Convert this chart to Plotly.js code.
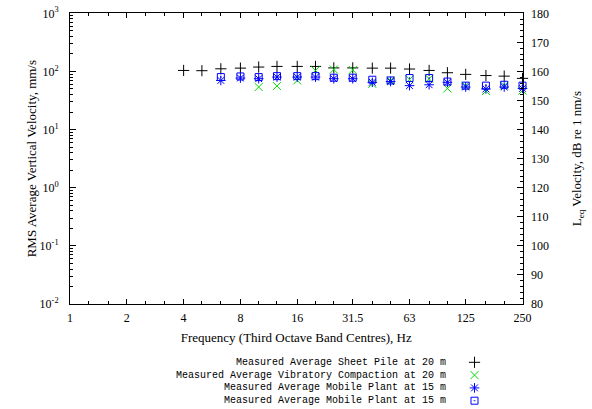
<!DOCTYPE html>
<html><head><meta charset="utf-8">
<script src="https://cdn.plot.ly/plotly-3.0.1.min.js"></script>
<style>html,body{margin:0;padding:0;background:#fff}#chart{width:592px;height:409px}</style>
</head><body><div id="chart"></div>
<script>
// ---- data (third-octave band centres, Hz; RMS velocity, mm/s) ----
const freqSheet = [4,5,6.3,8,10,12.5,16,20,25,31.5,40,50,63,80,100,125,160,200,250];
const sheetPile = [104,103,111,114,119,122,122,122,115,115,114,114,110,104,95,89,85,83,76];
const freqVib = [10,12.5,16,20,25,31.5,40,50,63,80,100,125,160,200,250];
const vibCompaction = [54,56,70,104,108,106,61,70,73,75,51,57,46,57,47];
const freqMobile = [6.3,8,10,12.5,16,20,25,31.5,40,50,63,80,100,125,160,200,250];
const mobileStar = [70,77,75,80,80,80,75,75,65,67,57,59,65,54,50,54,51];
const mobileBox = [80,82,80,83,83,83,78,78,72,70,77,77,67,57,57,59,57];

const seriesNames = [
  'Measured Average Sheet Pile at 20 m',
  'Measured Average Vibratory Compaction at 20 m',
  'Measured Average Mobile Plant at 15 m',
  'Measured Average Mobile Plant at 15 m'
];
const xTickVals = [1,2,4,8,16,31.5,63,125,250];
const xTickText = ['1','2','4','8','16','31.5','63','125','250'];
const xMinorVals = [1.25,1.6,2.5,3.15,5,6.3,10,12.5,20,25,40,50,80,100,160,200];
const yTickVals = [0.01,0.1,1,10,100,1000];
const yTickText = ['10<sup>-2</sup>','10<sup>-1</sup>','10<sup>0</sup>','10<sup>1</sup>','10<sup>2</sup>','10<sup>3</sup>'];

// ---- layout geometry ----
const W = 592, H = 409;
const L = 70, R = 522.5, T = 13.3, B = 304;
const serif = 'Liberation Serif, Times New Roman, serif';
const mono = 'Liberation Mono, Courier New, monospace';

const yMinor = [];
for (let e = -2; e < 3; e++) for (let m = 2; m <= 9; m++) yMinor.push(m * Math.pow(10, e));

const styles = [
  {symbol:'cross-thin-open', color:'#000000', size:8},
  {symbol:'x-thin-open', color:'#00dd00', size:8},
  {symbol:'asterisk-open', color:'#0000ff', size:8},
  {symbol:'square-open-dot', color:'#0000ff', size:7}
];
const xs = [freqSheet, freqVib, freqMobile, freqMobile];
const ys = [sheetPile, vibCompaction, mobileStar, mobileBox];

const traces = [];
for (let i = 0; i < 4; i++) {
  traces.push({
    type:'scatter', mode:'markers', x: xs[i], y: ys[i], name: seriesNames[i],
    xaxis:'x', yaxis:'y', showlegend:false, cliponaxis:false,
    marker:{symbol:styles[i].symbol, size:styles[i].size, color:styles[i].color,
            line:{color:styles[i].color, width:1}}
  });
}
// legend keys (drawn in a pixel-coordinate overlay)
const legX = 474.5, legY0 = 362.3, legDy = 12.8, legTextX = 448;
const annotations = [];
for (let i = 0; i < 4; i++) {
  traces.push({
    type:'scatter', mode:'markers', x:[legX], y:[legY0 + i*legDy],
    xaxis:'x3', yaxis:'y3', showlegend:false, hoverinfo:'skip', cliponaxis:false,
    marker:{symbol:styles[i].symbol, size:styles[i].size, color:styles[i].color,
            line:{color:styles[i].color, width:1}}
  });
  annotations.push({xref:'x3', yref:'y3', x:legTextX, y:legY0 + i*legDy,
    text: seriesNames[i], showarrow:false, xanchor:'right', yanchor:'middle',
    font:{family:mono, size:10, color:'#000'}});
}

const axCommon = {showline:true, linecolor:'#000', linewidth:1, ticks:'inside',
  tickcolor:'#000', tickwidth:1, showgrid:false, zeroline:false, automargin:false,
  tickfont:{family:serif, size:12, color:'#000'}};

const layout = {
  width:W, height:H, margin:{l:0, r:0, t:0, b:0},
  paper_bgcolor:'#fff', plot_bgcolor:'rgba(0,0,0,0)', showlegend:false,
  xaxis: Object.assign({}, axCommon, {
    type:'log', domain:[L/W, R/W], range:[0, Math.log10(250)], anchor:'y',
    tickmode:'array', tickvals:xTickVals, ticktext:xTickText, ticklen:5, mirror:'ticks',
    ticklabelstandoff:3,
    minor:{tickmode:'array', tickvals:xMinorVals, ticks:'inside', ticklen:3, tickcolor:'#000', tickwidth:1},
    title:{text:'Frequency (Third Octave Band Centres), Hz', font:{family:serif, size:13, color:'#000'}, standoff:8}
  }),
  yaxis: Object.assign({}, axCommon, {
    type:'log', domain:[1 - B/H, 1 - T/H], range:[-2, 3], anchor:'x',
    tickmode:'array', tickvals:yTickVals, ticktext:yTickText, ticklen:6,
    ticklabelstandoff:8,
    minor:{tickmode:'array', tickvals:yMinor, ticks:'inside', ticklen:3, tickcolor:'#000', tickwidth:1},
    title:{text:'RMS Average Vertical Velocity, mm/s', font:{family:serif, size:13, color:'#000'}, standoff:0}
  }),
  yaxis2: Object.assign({}, axCommon, {
    overlaying:'y', side:'right', anchor:'x', range:[80, 180], dtick:10, ticklen:6,
    ticklabelstandoff:5,
    minor:{dtick:2, ticks:'inside', ticklen:3, tickcolor:'#000', tickwidth:1},
    title:{text:'L<sub>eq</sub> Velocity, dB re 1 nm/s', font:{family:serif, size:13, color:'#000'}, standoff:24}
  }),
  xaxis3:{domain:[0,1], range:[0,W], visible:false, anchor:'y3', fixedrange:true},
  yaxis3:{domain:[0,1], range:[H,0], visible:false, anchor:'x3', fixedrange:true},
  annotations: annotations
};
// invisible anchor trace so the right-hand dB axis is drawn
traces.push({type:'scatter', mode:'markers', x:[1], y:[80], xaxis:'x', yaxis:'y2',
  showlegend:false, hoverinfo:'skip', marker:{opacity:0}});

Plotly.newPlot('chart', traces, layout, {staticPlot:true, displayModeBar:false});
</script></body></html>
